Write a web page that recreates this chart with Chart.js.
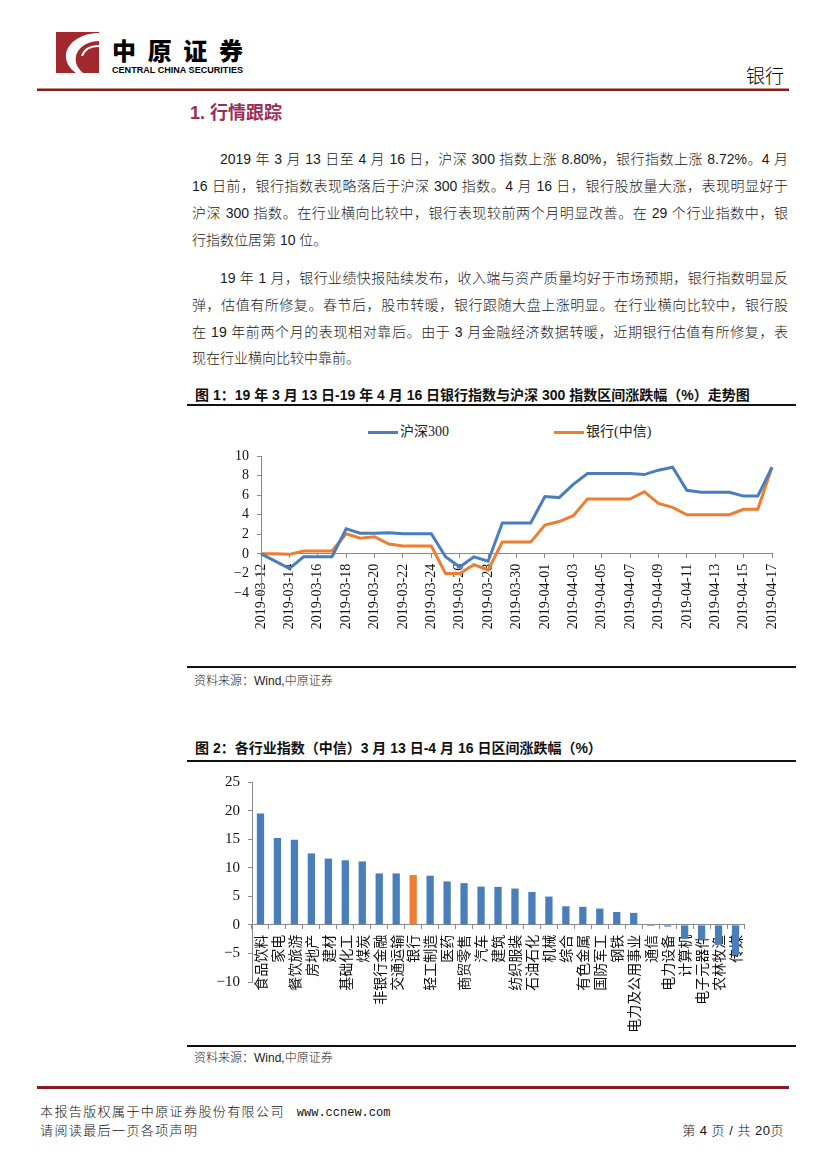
<!DOCTYPE html>
<html lang="zh-CN">
<head>
<meta charset="utf-8">
<title>银行 - 行情跟踪</title>
<script src="https://cdn.jsdelivr.net/npm/chart.js@4.4.1/dist/chart.umd.min.js"></script>
<style>
  html, body { margin: 0; padding: 0; background: #fff; }
  body { position: relative; width: 827px; height: 1169px; overflow: hidden;
         font-family: "Liberation Sans", "Noto Sans CJK SC", sans-serif; color: #1a1a1a; }
  .abs { position: absolute; }
  .txt { position: absolute; left: 192px; width: 596px; font-size: 14px; line-height: 20px;
         font-weight: 300; text-align: justify; text-align-last: justify; }
  .txt.first { left: 220px; width: 568px; }
  .txt.end { text-align-last: left; }
  .figtitle { position: absolute; left: 195px; font-size: 14px; line-height: 20px; font-weight: 700; color: #111; }
  .rule { position: absolute; left: 187px; width: 609px; height: 2px; background: #111; }
  .source { position: absolute; left: 194px; font-size: 12px; line-height: 16px; font-weight: 300; color: #222; }
  .legend { position: absolute; top: 424px; font-family: "Liberation Serif", "Noto Sans CJK SC", serif;
            font-size: 14px; line-height: 16px; color: #222; }
  .legend i { display: inline-block; width: 30px; height: 3px; vertical-align: middle; margin-right: 2px; }
  .foot { position: absolute; left: 40px; font-size: 13px; line-height: 16px; font-weight: 300;
          letter-spacing: 1.4px; color: #111; }
  canvas { position: absolute; }
</style>
</head>
<body>

<svg class="abs" style="left:0;top:0" width="827" height="100">
  <rect x="56" y="32" width="43" height="41" fill="#a3282d"/>
  <path d="M99 33 C82 33 68 42 66 54 C65 62 70 69 76 73 L83 73 C76 67 74 60 77 53 C81 45 90 41 99 41 Z" fill="#fff"/>
  <path d="M99 46 C90 46 84 50 82 56" stroke="#fff" stroke-width="2" fill="none"/>
  <text x="112" y="60" font-family="Noto Sans CJK SC" font-weight="900" font-size="24"
        textLength="131" lengthAdjust="spacing">中原证券</text>
  <text x="112" y="73" font-family="Liberation Sans" font-weight="700" font-size="9.5"
        textLength="131" lengthAdjust="spacingAndGlyphs">CENTRAL CHINA SECURITIES</text>
  <text x="784" y="83" text-anchor="end" font-family="Noto Sans CJK SC" font-weight="300" font-size="19">银行</text>
  <rect x="37" y="88.5" width="752" height="2.5" fill="#8b1a1f"/>
</svg>

<div class="abs" style="left:190px;top:102px;font-size:18px;line-height:22px;font-weight:700;color:#9b2c55;">1. 行情跟踪</div>

<div class="txt first" style="top:149px">2019 年 3 月 13 日至 4 月 16 日，沪深 300 指数上涨 8.80%，银行指数上涨 8.72%。4 月</div>
<div class="txt" style="top:176px">16 日前，银行指数表现略落后于沪深 300 指数。4 月 16 日，银行股放量大涨，表现明显好于</div>
<div class="txt" style="top:203px">沪深 300 指数。在行业横向比较中，银行表现较前两个月明显改善。在 29 个行业指数中，银</div>
<div class="txt end" style="top:230px">行指数位居第 10 位。</div>

<div class="txt first" style="top:268px">19 年 1 月，银行业绩快报陆续发布，收入端与资产质量均好于市场预期，银行指数明显反</div>
<div class="txt" style="top:295px">弹，估值有所修复。春节后，股市转暖，银行跟随大盘上涨明显。在行业横向比较中，银行股</div>
<div class="txt" style="top:322px">在 19 年前两个月的表现相对靠后。由于 3 月金融经济数据转暖，近期银行估值有所修复，表</div>
<div class="txt end" style="top:348px">现在行业横向比较中靠前。</div>

<div class="figtitle" style="top:385px">图 1：19 年 3 月 13 日-19 年 4 月 16 日银行指数与沪深 300 指数区间涨跌幅（%）走势图</div>
<div class="rule" style="top:404px"></div>

<div class="legend" style="left:368px"><i style="background:#4a7ebb"></i>沪深300</div>
<div class="legend" style="left:554px"><i style="background:#ed7d31"></i>银行(中信)</div>

<canvas id="lineChart" width="605" height="250" style="left:190px;top:415px"></canvas>

<div class="rule" style="top:666px"></div>
<div class="source" style="top:673px">资料来源：Wind,中原证券</div>

<div class="figtitle" style="top:738px">图 2：各行业指数（中信）3 月 13 日-4 月 16 日区间涨跌幅（%）</div>
<div class="rule" style="top:760px"></div>

<canvas id="barChart" width="605" height="275" style="left:190px;top:765px"></canvas>

<div class="rule" style="top:1045px"></div>
<div class="source" style="top:1050px">资料来源：Wind,中原证券</div>

<div class="abs" style="left:37px;top:1086px;width:752px;height:2.5px;background:#8b1a1f"></div>
<div class="foot" style="top:1104px">本报告版权属于中原证券股份有限公司<span style="font-family:'Liberation Mono',monospace;font-size:12px;letter-spacing:0;margin-left:12px">www.ccnew.com</span></div>
<div class="foot" style="top:1123px">请阅读最后一页各项声明</div>
<div class="foot" style="top:1123px;left:auto;right:43px;letter-spacing:0.5px">第 4 页 / 共 20页</div>

<script>
const dates = [
  '2019-03-12', '2019-03-13', '2019-03-14', '2019-03-15', '2019-03-16', '2019-03-17',
  '2019-03-18', '2019-03-19', '2019-03-20', '2019-03-21', '2019-03-22', '2019-03-23',
  '2019-03-24', '2019-03-25', '2019-03-26', '2019-03-27', '2019-03-28', '2019-03-29',
  '2019-03-30', '2019-03-31', '2019-04-01', '2019-04-02', '2019-04-03', '2019-04-04',
  '2019-04-05', '2019-04-06', '2019-04-07', '2019-04-08', '2019-04-09', '2019-04-10',
  '2019-04-11', '2019-04-12', '2019-04-13', '2019-04-14', '2019-04-15', '2019-04-16',
  '2019-04-17'
];
const hs300 = [
  0, -0.75, -1.5, -0.3, -0.3, -0.3,
  2.55, 2.1, 2.1, 2.15, 2.05, 2.05,
  2.05, -0.3, -1.35, -0.3, -0.75, 3.15,
  3.15, 3.15, 5.85, 5.75, 7.1, 8.2,
  8.2, 8.2, 8.2, 8.1, 8.55, 8.85,
  6.5, 6.3, 6.3, 6.3, 5.9, 5.9,
  8.85
];
const bankCiti = [
  0, 0, -0.05, 0.3, 0.3, 0.3,
  2.05, 1.6, 1.75, 1.0, 0.8, 0.8,
  0.8, -2.0, -2.0, -1.1, -1.65, 1.2,
  1.2, 1.2, 2.95, 3.3, 3.9, 5.6,
  5.6, 5.6, 5.6, 6.35, 5.15, 4.75,
  4.0, 4.0, 4.0, 4.0, 4.55, 4.55,
  8.85
];
const lineTicks = { min: -4, max: 10, step: 2 };

const industries = [
  '食品饮料', '家电', '餐饮旅游', '房地产', '建材', '基础化工', '煤炭', '非银行金融',
  '交通运输', '银行', '轻工制造', '医药', '商贸零售', '汽车', '建筑', '纺织服装',
  '石油石化', '机械', '综合', '有色金属', '国防军工', '钢铁', '电力及公用事业', '通信',
  '电力设备', '计算机', '电子元器件', '农林牧渔', '传媒'
];
const industryChange = [
  19.5, 15.2, 14.9, 12.5, 11.6, 11.3, 11.1, 9.0,
  9.0, 8.72, 8.6, 7.6, 7.3, 6.7, 6.65, 6.35,
  5.75, 4.95, 3.25, 3.15, 2.85, 2.25, 2.1, -0.2,
  -0.3, -2.45, -2.6, -3.5, -5.3
];
const barTicks = { min: -10, max: 25, step: 5 };

const blue = '#4a7ebb';
const orange = '#ed7d31';
const axisGrey = '#8a8a8a';
const minus = v => String(v).replace('-', '\u2212');

new Chart(document.getElementById('lineChart'), {
    type: 'line',
    data: {
        labels: dates,
        datasets: [{
            label: '沪深300',
            data: hs300,
            borderColor: blue,
            backgroundColor: blue,
            borderWidth: 3,
            pointRadius: 0,
            tension: 0
        }, {
            label: '银行(中信)',
            data: bankCiti,
            borderColor: orange,
            backgroundColor: orange,
            borderWidth: 3,
            pointRadius: 0,
            tension: 0
        }]
    },
    options: {
        responsive: false,
        animation: false,
        layout: { padding: { top: 41, right: 23, bottom: 72, left: 0 } },
        plugins: {
            legend: { display: false },
            tooltip: { enabled: false }
        },
        scales: {
            x: {
                position: { y: 0 },
                offset: false,
                grid: { drawOnChartArea: false, tickLength: 4, color: axisGrey },
                border: { color: axisGrey },
                ticks: {
                    autoSkip: true,
                    maxTicksLimit: 19,
                    minRotation: 90,
                    maxRotation: 90,
                    padding: 6,
                    color: '#111',
                    font: { family: 'Liberation Serif', size: 14 }
                }
            },
            y: {
                min: lineTicks.min,
                max: lineTicks.max,
                afterFit: scale => { scale.width = 71; },
                grid: { drawOnChartArea: false, tickLength: 4, color: axisGrey },
                border: { color: axisGrey },
                ticks: {
                    stepSize: lineTicks.step,
                    autoSkip: false,
                    padding: 8,
                    color: '#111',
                    font: { family: 'Liberation Serif', size: 14 },
                    callback: minus
                }
            }
        }
    }
});

new Chart(document.getElementById('barChart'), {
    type: 'bar',
    data: {
        labels: industries,
        datasets: [{
            label: '区间涨跌幅',
            data: industryChange,
            backgroundColor: industries.map(name => name === '银行' ? orange : blue),
            barPercentage: 0.43,
            categoryPercentage: 1
        }]
    },
    options: {
        responsive: false,
        animation: false,
        layout: { padding: { top: 12, right: 51, bottom: 58, left: 0 } },
        plugins: {
            legend: { display: false },
            tooltip: { enabled: false }
        },
        scales: {
            x: {
                position: { y: 0 },
                offset: true,
                grid: { offset: true, drawOnChartArea: false, tickLength: 4, color: axisGrey },
                border: { color: axisGrey },
                ticks: {
                    autoSkip: false,
                    minRotation: 90,
                    maxRotation: 90,
                    padding: 6,
                    color: '#111',
                    font: { family: 'Noto Sans CJK SC', size: 14 }
                }
            },
            y: {
                min: barTicks.min,
                max: barTicks.max,
                afterFit: scale => { scale.width = 62; },
                grid: { drawOnChartArea: false, tickLength: 4, color: axisGrey },
                border: { color: axisGrey },
                ticks: {
                    stepSize: barTicks.step,
                    autoSkip: false,
                    padding: 8,
                    color: '#111',
                    font: { family: 'Liberation Serif', size: 15 },
                    callback: minus
                }
            }
        }
    }
});
</script>
</body>
</html>
